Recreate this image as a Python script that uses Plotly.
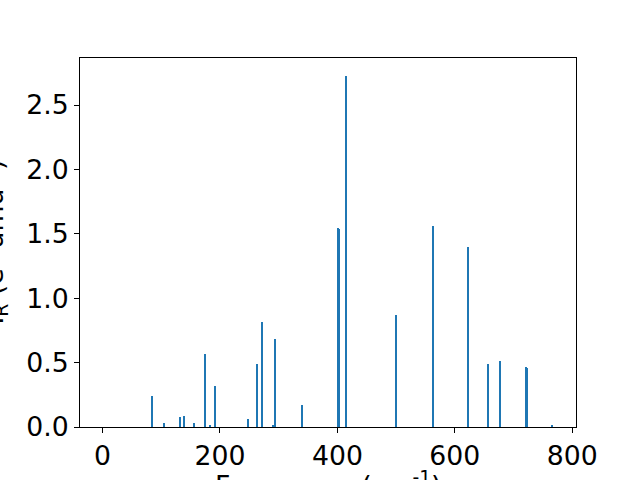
import plotly.graph_objects as go

# Frequencies (cm^-1) and intensities
freqs = [0.0, 84.8, 105.0, 132.5, 139.0, 156.0, 175.0, 183.5, 192.0, 248.0,
         263.5, 272.0, 290.7, 294.0, 340.0, 401.3, 402.7, 415.0, 500.0, 563.0,
         622.6, 656.7, 677.0, 721.9, 723.3, 765.6]
intensities = [0.0, 0.240, 0.031, 0.078, 0.085, 0.031, 0.566, 0.008, 0.318, 0.062,
               0.488, 0.814, 0.015, 0.682, 0.171, 1.543, 1.540, 2.729, 0.868, 1.558,
               1.395, 0.488, 0.512, 0.465, 0.462, 0.008]

x_ticks = [0, 200, 400, 600, 800]
y_ticks = [0.0, 0.5, 1.0, 1.5, 2.0, 2.5]
y_tick_text = ["0.0", "0.5", "1.0", "1.5", "2.0", "2.5"]

BLUE = "#1f77b4"
FONT = "DejaVu Sans"
FS = 26.7

fig = go.Figure()
fig.add_trace(go.Bar(
    x=freqs, y=intensities, width=[1.5] * len(freqs),
    marker=dict(color=BLUE, line=dict(width=0)),
    showlegend=False,
))

fig.update_layout(
    width=640, height=480,
    margin=dict(l=80, r=64, t=58, b=53, pad=0, autoexpand=False),
    paper_bgcolor="white", plot_bgcolor="white",
    font=dict(family=FONT, size=FS, color="black"),
    bargap=0,
    xaxis=dict(
        range=[-38.4, 806.4], tickvals=x_ticks, ticktext=[str(v) for v in x_ticks],
        showgrid=False, zeroline=False, automargin=False,
        showline=True, linecolor="black", linewidth=1, mirror=True,
        ticks="outside", ticklen=5, tickwidth=1, tickcolor="black",
        tickfont=dict(family=FONT, size=FS, color="black"),
    ),
    yaxis=dict(
        range=[0, 2.865], tickvals=y_ticks, ticktext=y_tick_text,
        showgrid=False, zeroline=False, automargin=False,
        showline=True, linecolor="black", linewidth=1, mirror=True,
        ticks="outside", ticklen=5, tickwidth=1, tickcolor="black",
        tickfont=dict(family=FONT, size=FS, color="black"),
    ),
    annotations=[
        dict(text="Frequency (cm<sup>-1</sup>)", xref="paper", yref="paper",
             x=0.5, y=-0.102, xanchor="center", yanchor="top", showarrow=False,
             font=dict(family=FONT, size=FS, color="black")),
        dict(text="I<sub>R</sub> (e<sup>2</sup> amu<sup>-1</sup>)", xref="paper", yref="paper",
             x=-0.133, y=0.5, xanchor="right", yanchor="middle", textangle=-90,
             showarrow=False, font=dict(family=FONT, size=FS, color="black")),
    ],
)

fig.write_html("out.html", config={"displayModeBar": False},
               post_script="document.body.style.margin='0';document.body.style.overflow='hidden';")
